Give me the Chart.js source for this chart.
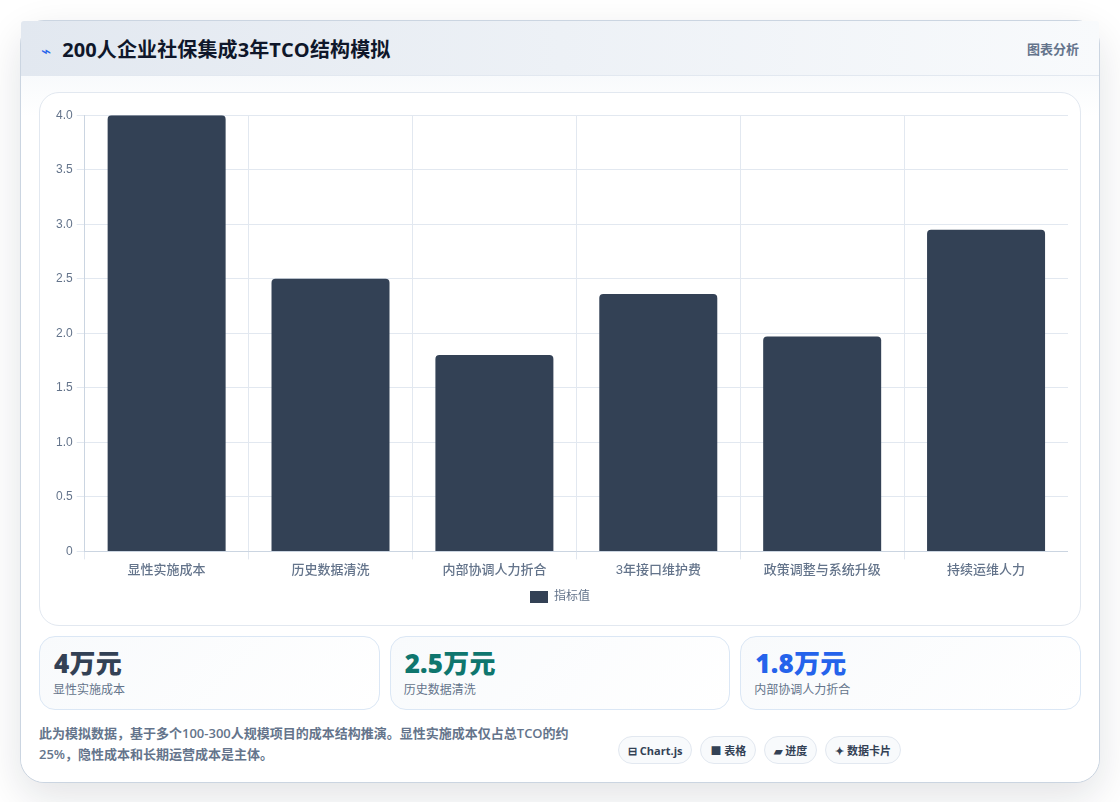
<!DOCTYPE html>
<html lang="zh-CN">
<head>
<meta charset="utf-8">
<title>200人企业社保集成3年TCO结构模拟</title>
<script src="https://cdn.jsdelivr.net/npm/chart.js@4/dist/chart.umd.min.js"></script>
<style>
  * { box-sizing: border-box; margin: 0; padding: 0; }
  html, body { width: 1120px; height: 804px; overflow: hidden; background: #fff; }
  body { font-family: "Open Sans", "Noto Sans CJK SC", sans-serif; }
  .page { position: absolute; left: 0; top: 0; width: 1120px; height: 802px; overflow: hidden; }
  .card {
    position: absolute; left: 20px; top: 20px; width: 1080px; height: 763px;
    background: #fff; border: 1px solid #cbd5e1; border-radius: 24px;
    box-shadow: 0 14px 40px rgba(15, 23, 42, 0.12);
  }
  .head {
    height: 55px; display: flex; align-items: center; justify-content: space-between;
    padding: 0 20px; background: linear-gradient(90deg, #e2e8f0, #f8fafc);
    border-bottom: 1px solid #e2e8f0; border-radius: 3px 3px 0 0;
  }
  .head h1 { font-size: 20px; font-weight: 700; color: #0f172a; letter-spacing: 0.12px; }
  .head h1 i { font-style: normal; font-weight: 400; color: #2563eb; margin-right: 11px; font-size: 17px; }
  .head span { font-size: 13px; font-weight: 600; color: #64748b; }
  .body { position: absolute; left: 0; right: 0; top: 55px; bottom: 0; padding: 16px 18px 0; border-radius: 0 0 24px 24px; background: linear-gradient(#f8fafc, #fff 40px); }
  .plot { height: 534px; background: #fff; border: 1px solid #e2e8f0; border-radius: 20px; padding: 11px 12px; }
  .plot div { position: relative; width: 1016px; height: 509px; }
  .stats { display: flex; gap: 10px; margin-top: 10px; }
  .stat {
    flex: 1; height: 74px; padding: 11px 13px; border: 1px solid #dbe7f5; border-radius: 16px;
    background: linear-gradient(135deg, #f8fafc, #fff);
  }
  .stat b { display: block; margin-left: 1px; font-size: 26px; line-height: 30px; font-weight: 800; letter-spacing: 0.2px; }
  .stat span { display: block; margin-top: 3px; font-size: 12px; line-height: 18px; color: #64748b; }
  .foot { position: relative; margin-top: 13px; }
  .foot p { width: 540px; font-size: 13px; line-height: 20.8px; font-weight: 600; color: #64748b; }
  .chips { position: absolute; left: 579px; top: 13px; display: flex; gap: 8px; }
  .chips span {
    height: 28px; padding: 0 9px; display: flex; align-items: center; border: 1px solid #e2e8f0;
    border-radius: 14px; background: #f8fafc; font-size: 11px; font-weight: 700; color: #334155;
    white-space: pre;
  }
</style>
</head>
<body>
<div class="page">
<div class="card">
  <div class="head">
    <h1><i>⌁</i>200人企业社保集成3年TCO结构模拟</h1>
    <span>图表分析</span>
  </div>
  <div class="body">
    <div class="plot"><div><canvas id="tcoChart"></canvas></div></div>
    <div class="stats" id="stats"></div>
    <div class="foot">
      <p>此为模拟数据，基于多个100-300人规模项目的成本结构推演。显性实施成本仅占总TCO的约25%，隐性成本和长期运营成本是主体。</p>
      <div class="chips"><span>⊟ Chart.js</span><span>■ 表格</span><span>▰ 进度</span><span>✦ 数据卡片</span></div>
    </div>
  </div>
</div>
</div>
<script>
// Cost items and their amounts, in 万元
const categories = ['显性实施成本', '历史数据清洗', '内部协调人力折合', '3年接口维护费', '政策调整与系统升级', '持续运维人力'];
const costValues = [4, 2.5, 1.8, 2.36, 1.97, 2.95];
const yTicks = ['0', '0.5', '1.0', '1.5', '2.0', '2.5', '3.0', '3.5', '4.0'];
const seriesName = '指标值';

// Summary cards under the chart
const statValues = ['4万元', '2.5万元', '1.8万元'];
const statNames = ['显性实施成本', '历史数据清洗', '内部协调人力折合'];
const statColors = ['#334155', '#0f766e', '#2563eb'];

document.getElementById('stats').innerHTML = statValues.map((v, i) =>
  `<div class="stat"><b style="color:${statColors[i]}">${v}</b><span>${statNames[i]}</span></div>`
).join('');

const tickFont = { family: '"Liberation Sans", "Noto Sans CJK SC", sans-serif', size: 12 };
const categoryFont = { family: '"Liberation Sans", "Noto Sans CJK SC", sans-serif', size: 13, weight: '500' };
const ctx = document.getElementById('tcoChart').getContext('2d');
new Chart(ctx, {
  type: 'bar',
  data: {
    labels: categories,
    datasets: [{
      label: seriesName,
      data: costValues,
      backgroundColor: '#334155',
      borderRadius: 4
    }]
  },
  options: {
    responsive: true,
    maintainAspectRatio: false,
    animation: false,
    plugins: {
      legend: {
        position: 'bottom',
        labels: { color: '#64748b', font: tickFont, boxWidth: 18, boxHeight: 12 }
      }
    },
    scales: {
      x: {
        grid: { color: '#e2e8f0' },
        border: { color: '#cbd5e1' },
        ticks: { color: '#64748b', font: categoryFont }
      },
      y: {
        beginAtZero: true,
        max: 4,
        grid: { color: '#e2e8f0' },
        border: { color: '#cbd5e1' },
        ticks: {
          stepSize: 0.5,
          padding: 4,
          color: '#64748b',
          font: tickFont,
          callback: (v, i) => yTicks[i]
        }
      }
    }
  }
});
</script>
</body>
</html>
